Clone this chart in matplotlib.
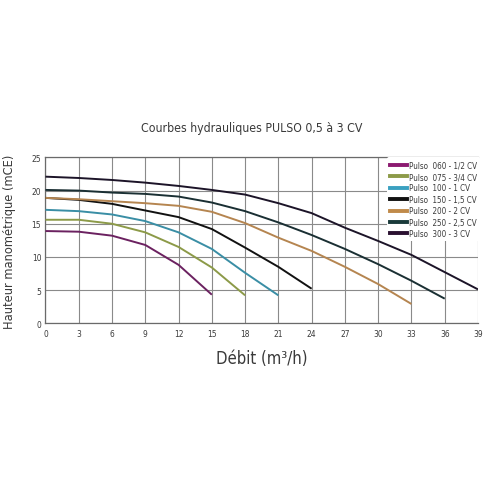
import matplotlib
matplotlib.use("Agg")
import matplotlib.pyplot as plt
from matplotlib.lines import Line2D

# ---- data ----
x_ticks = [0, 3, 6, 9, 12, 15, 18, 21, 24, 27, 30, 33, 36, 39]
y_ticks = [0, 5, 10, 15, 20, 25]

labels = ["Pulso  060 - 1/2 CV", "Pulso  075 - 3/4 CV", "Pulso  100 - 1 CV",
          "Pulso  150 - 1,5 CV", "Pulso  200 - 2 CV", "Pulso  250 - 2,5 CV",
          "Pulso  300 - 3 CV"]

flow_060 = [0, 3, 6, 9, 12, 15]
head_060 = [13.9, 13.8, 13.2, 11.8, 8.8, 4.3]
flow_075 = [0, 3, 6, 9, 12, 15, 18]
head_075 = [15.6, 15.6, 15.0, 13.7, 11.5, 8.4, 4.2]
flow_100 = [0, 3, 6, 9, 12, 15, 18, 21]
head_100 = [17.1, 16.9, 16.4, 15.4, 13.7, 11.2, 7.6, 4.2]
flow_150 = [0, 3, 6, 9, 12, 15, 18, 21, 24]
head_150 = [18.9, 18.6, 18.0, 17.0, 16.0, 14.2, 11.4, 8.5, 5.2]
flow_200 = [0, 3, 6, 9, 12, 15, 18, 21, 24, 27, 30, 33]
head_200 = [18.9, 18.7, 18.4, 18.1, 17.7, 16.8, 15.1, 12.9, 10.9, 8.5, 5.9, 2.9]
flow_250 = [0, 3, 6, 9, 12, 15, 18, 21, 24, 27, 30, 33, 36]
head_250 = [20.1, 20.0, 19.7, 19.5, 19.1, 18.2, 16.9, 15.2, 13.3, 11.2, 8.9, 6.4, 3.7]
flow_300 = [0, 3, 6, 9, 12, 15, 18, 21, 24, 27, 30, 33, 36, 39]
head_300 = [22.1, 21.9, 21.6, 21.2, 20.7, 20.1, 19.4, 18.1, 16.6, 14.4, 12.4, 10.3, 7.7, 5.1]

colors = ["#6b2160", "#8c9a48", "#3a8ea5", "#111111", "#b58550", "#1a2f33", "#1c1428"]
legend_colors = ["#8b1a70", "#8c9a48", "#3aa0c0", "#111111", "#c08a4a", "#1a3a3a", "#2a1030"]

series = [(flow_060, head_060), (flow_075, head_075), (flow_100, head_100),
          (flow_150, head_150), (flow_200, head_200), (flow_250, head_250),
          (flow_300, head_300)]

plt.rcParams['font.family'] = ['DejaVu Sans']
plt.rcParams['font.stretch'] = 'condensed'
cond = dict(fontstretch='condensed')

fig = plt.figure(figsize=(4.89, 4.89), dpi=100)
ax = fig.add_axes([0.093, 0.337, 0.8845, 0.339])

txt = "#3a3a3a"
for (fx, hy), c in zip(series, colors):
    ax.plot(fx, hy, color=c, lw=1.4, solid_capstyle='butt', zorder=3)

ax.set_xlim(0, 39)
ax.set_ylim(0, 25)
ax.set_xticks(x_ticks)
ax.set_yticks(y_ticks)
ax.tick_params(axis='x', length=0, labelsize=6, colors=txt, pad=4)
ax.tick_params(axis='y', length=0, labelsize=6, colors=txt, pad=3)
for t in ax.get_xticklabels() + ax.get_yticklabels():
    t.set_fontstretch('condensed')
ax.grid(True, color="#8a8a8a", lw=0.8, zorder=1)
ax.spines["right"].set_visible(False)
for s in ["left", "bottom", "top"]:
    ax.spines[s].set_color("#6a6a6a")
    ax.spines[s].set_linewidth(0.9)

handles = [Line2D([0], [0], color=c, lw=2.8) for c in legend_colors]
leg = ax.legend(handles, labels, loc="upper right", bbox_to_anchor=(1.005, 1.0),
                prop=dict(size=5.8, stretch='condensed'), frameon=True,
                handlelength=2.0, handletextpad=0.3,
                labelspacing=0.3, borderaxespad=0.0, borderpad=0.4)
leg.get_frame().set_facecolor("white")
leg.get_frame().set_edgecolor("none")
leg.get_frame().set_alpha(1.0)
leg.set_zorder(10)
for t in leg.get_texts():
    t.set_color(txt)

ax.set_xlabel("Débit (m³/h)", fontsize=12, color=txt, labelpad=8, **cond)
ax.set_ylabel("Hauteur manométrique (mCE)", fontsize=9.2, color=txt, labelpad=11,
              **cond)
fig.text(0.515, 0.738, "Courbes hydrauliques PULSO 0,5 à 3 CV", ha="center",
         va="center", fontsize=8.8, color=txt, **cond)

fig.savefig("out.png", dpi=100, facecolor="white")
